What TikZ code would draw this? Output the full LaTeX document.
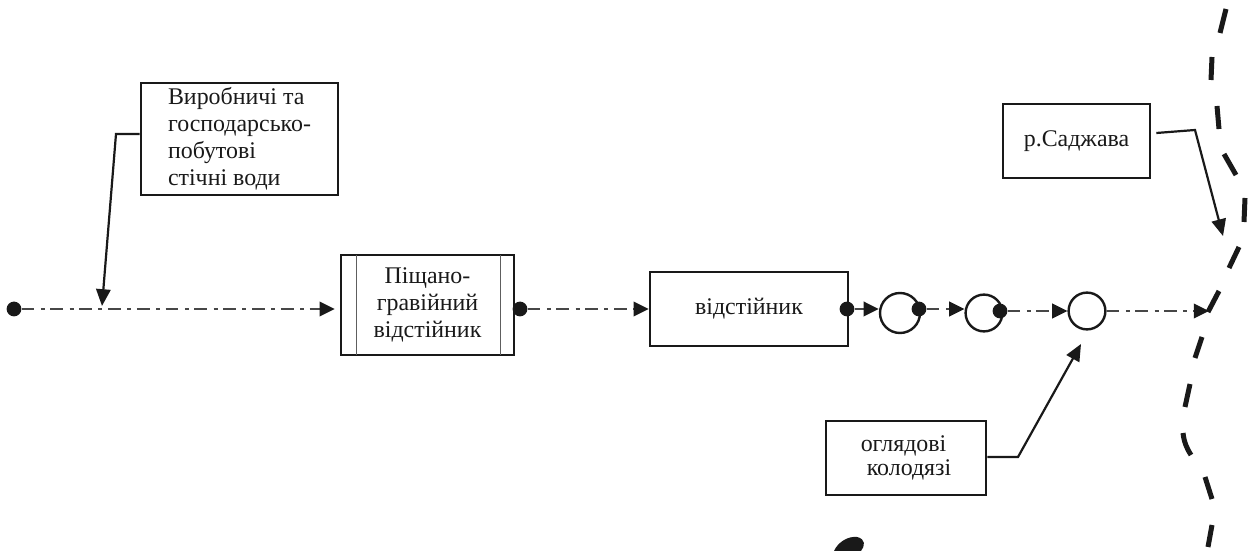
\documentclass[tikz,border=0pt]{standalone}
\usepackage{fontspec}
\setmainfont{Liberation Serif}
\usetikzlibrary{arrows.meta, calc}

\tikzset{
    box/.style={draw=myink, line width=0.65mm, inner sep=0pt, align=center, font=\fontsize{17}{19.2}\selectfont, text=myink},
    dot/.style={circle, fill=myink, inner sep=0pt, minimum size=3.7mm},
    well/.style={circle, draw=myink, line width=0.6mm, inner sep=0pt, fill=none},
    flow/.style={-{Triangle[length=3.8mm, width=3.6mm, color=myink]}, line width=0.65mm, draw=myink!80!white, dash pattern=on 3.2mm off 1.6mm on 1mm off 1.4mm},
    link/.style={-{Triangle[length=4.2mm, width=3.6mm]}, line width=0.55mm, draw=myink},
    river/.style={line width=1.25mm, draw=myink, line cap=butt}
}

\begin{document}
\begin{tikzpicture}[x=0.25mm, y=-0.25mm]
        \definecolor{myink}{RGB}{25, 25, 25}
        \useasboundingbox (0, 0) rectangle (1249, 551);

        % 1. Блоки схеми
        \node[box, minimum width=49.25mm, minimum height=28mm, align=left] (source) at (239.5, 139) {Виробничі та\\господарсько-\\побутові\\стічні води};
        \node[box, minimum width=43.25mm, minimum height=25mm] (sandtrap) at (427.5, 305) {Піщано-\\гравійний\\відстійник};
        \draw[line width=0.2mm, myink!70!white] (356, 255) -- (356, 355) (500, 255) -- (500, 355);
        \node[box, minimum width=49.5mm, minimum height=18.5mm] (settler) at (749, 309) {відстійник};
        \node[box, minimum width=40mm, minimum height=18.5mm, align=left, font=\fontsize{17}{17}\selectfont] (wellsbox) at (906, 458) {оглядові\\\hspace*{1.5mm}колодязі};
        \node[box, minimum width=36.75mm, minimum height=18.5mm] (sadzhava) at (1076.5, 141) {р.Саджава};

        % 2. Колодязі та точки
        \node[well, minimum size=10mm] (well1) at (900, 313) {};
        \node[well, minimum size=9.2mm] (well2) at (984, 313) {};
        \node[well, minimum size=9.2mm] (well3) at (1087, 311) {};
        \node[dot] (start) at (14, 309) {};
        \node[dot] (dot1) at (520, 309) {};
        \node[dot] (dot2) at (847, 309) {};
        \node[dot] (dot3) at (919, 309) {};
        \node[dot] (dot4) at (1000, 311) {};
        \coordinate (outlet) at (1209, 311);
        \coordinate (join) at (102, 309);

        % 3. Лінія потоку
        \draw[flow, shorten >=1.25mm] (start) -- (start -| sandtrap.west);
        \draw[flow] (dot1) -- (settler.west);
        \draw[flow] (dot2) -- (well1.west |- dot2);
        \draw[flow] (dot3) -- (well2.west |- dot3);
        \draw[flow] (dot4) -- (well3.west |- dot4);
        \draw[flow] (well3.east) -- (outlet);

        % 4. Виноски
        \coordinate (wellstip) at (1081, 344);
        \coordinate (rivertip) at (1223, 236);
        \draw[link] ([yshift=1.25mm]source.west) -- (116, 134) -- ($(join)+(0, -3)$);
        \draw[link] ([yshift=0.25mm]wellsbox.east) -- (1018, 457) -- (wellstip);
        \draw[link] ($(sadzhava.east)+(5, -8)$) -- (1195, 130) -- (rivertip);

        % 5. Берег річки
        \foreach \xa/\ya/\xb/\yb in {1226/9/1220/33, 1212/57/1211/80, 1217/106/1219/129, 1224/154/1236/175, 1245/198/1244/222, 1239/247/1229/268, 1219/291/1208/312, 1202/337/1195/358, 1190/384/1185/407, 1205/477/1212/499, 1212/525/1208/547} {
            \draw[river] (\xa, \ya) -- (\xb, \yb);
        }
        \draw[river] (1183, 433) .. controls (1184, 442) and (1187, 449) .. (1191, 455);

        % 6. Пляма внизу
        \fill[myink] (834, 551) .. controls (838, 542) and (848, 536) .. (857, 537) .. controls (866, 539) and (865, 546) .. (861, 551) -- cycle;
    \end{tikzpicture}
\end{document}
